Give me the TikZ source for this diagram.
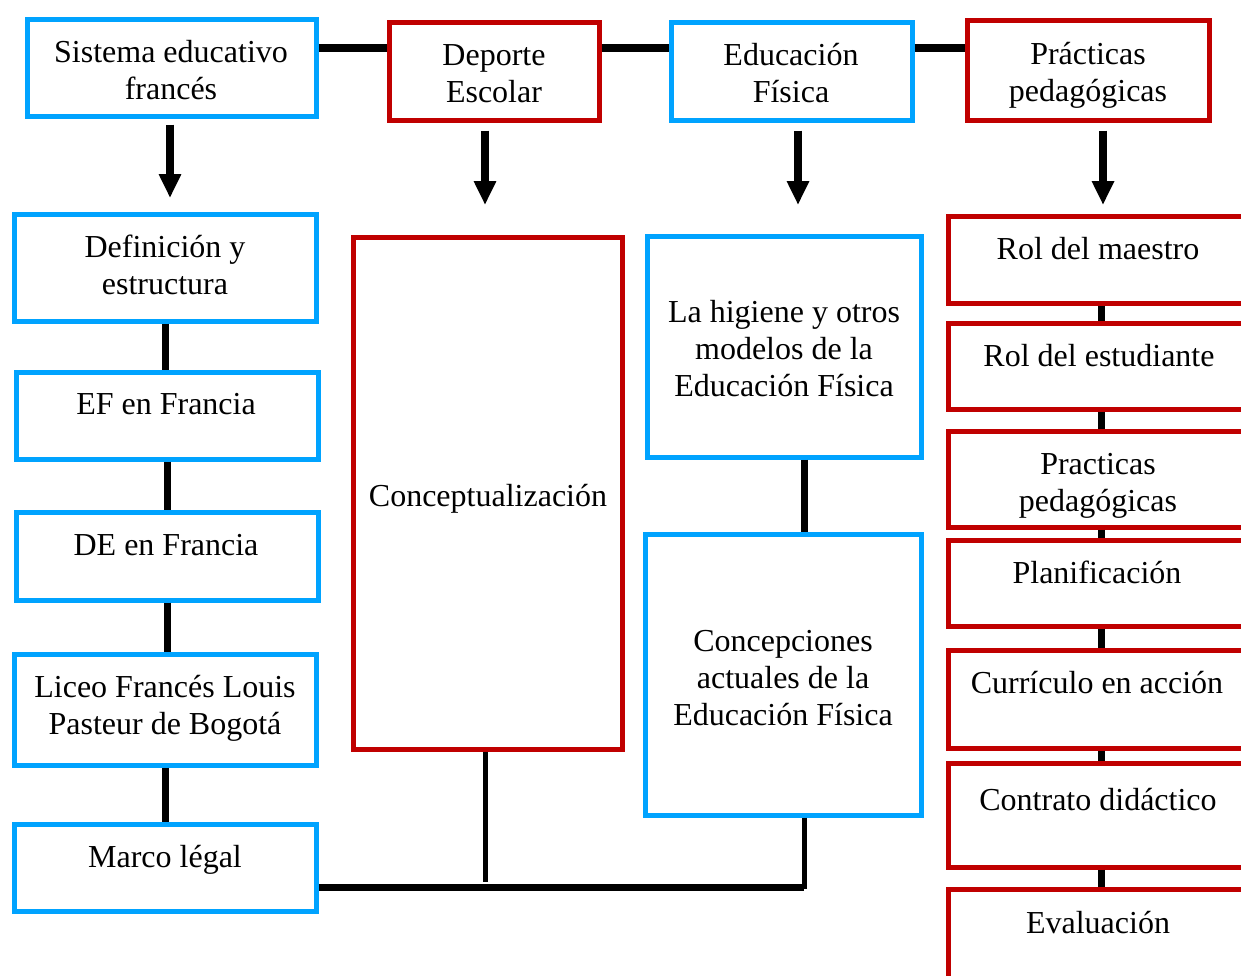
\documentclass[tikz,border=0pt]{standalone}
\usepackage{fontspec}
\setmainfont{Liberation Serif}
\usetikzlibrary{arrows.meta}
\definecolor{bblue}{RGB}{0,163,255}
\definecolor{rred}{RGB}{192,0,0}
\newcommand{\tl}[1]{\begin{tabular}[t]{@{}c@{}}#1\end{tabular}}
\begin{document}
\begin{tikzpicture}[x=1pt,y=-1pt,
  box/.style={draw, line width=4.5pt, rectangle, anchor=north west, inner sep=0pt},
  bluebox/.style={box, draw=bblue},
  redbox/.style={box, draw=rred},
  lbl/.style={anchor=base, inner sep=0pt, font=\fontsize{32}{37}\selectfont},
  conn/.style={line width=7pt},
  thinconn/.style={line width=5pt},
  arr/.style={line width=8pt, -{Triangle[width=21pt,length=24pt]}}
]
\useasboundingbox (0,0) rectangle (1241,975);
% top row
\node[bluebox, minimum width=289, minimum height=97] (sis) at (25,17) {};
\node[redbox, minimum width=210, minimum height=98] (dep) at (387,20) {};
\node[bluebox, minimum width=241, minimum height=98] (edu) at (669,20) {};
\node[redbox, minimum width=242, minimum height=100] (pra) at (965,18) {};
\node[lbl] (tsis) at (171,62) {\tl{Sistema educativo\\francés}};
\node[lbl] (tdep) at (494,65) {\tl{Deporte\\Escolar}};
\node[lbl] (tedu) at (791,65) {\tl{Educación\\Física}};
\node[lbl] (tpra) at (1088,64) {\tl{Prácticas\\pedagógicas}};
% left column
\node[bluebox, minimum width=302, minimum height=107] (def) at (12,212) {};
\node[bluebox, minimum width=302, minimum height=87] (eff) at (14,370) {};
\node[bluebox, minimum width=302, minimum height=88] (def2) at (14,510) {};
\node[bluebox, minimum width=302, minimum height=111] (lic) at (12,652) {};
\node[bluebox, minimum width=302, minimum height=87] (ml) at (12,822) {};
\node[lbl] (tdef) at (165,257) {\tl{Definición y\\estructura}};
\node[lbl] (teff) at (166,414) {EF en Francia};
\node[lbl] (tdef2) at (166,555) {DE en Francia};
\node[lbl] (tlic) at (165,697) {\tl{Liceo Francés Louis\\Pasteur de Bogotá}};
\node[lbl] (tml) at (165,867) {Marco légal};
% middle
\node[redbox, minimum width=269, minimum height=512] (cz) at (351,235) {};
\node[bluebox, minimum width=274, minimum height=221] (hig) at (645,234) {};
\node[bluebox, minimum width=276, minimum height=281] (cpc) at (643,532) {};
\node[lbl] (tcz) at (488,506) {Conceptualización};
\node[lbl] (thig) at (784,322) {\tl{La higiene y otros\\modelos de la\\Educación Física}};
\node[lbl] (tcpc) at (783,651) {\tl{Concepciones\\actuales de la\\Educación Física}};
% right column
\node[redbox, minimum width=310, minimum height=87] (r1) at (946,214) {};
\node[redbox, minimum width=310, minimum height=86] (r2) at (946,321) {};
\node[redbox, minimum width=310, minimum height=96] (r3) at (946,429) {};
\node[redbox, minimum width=310, minimum height=86] (r4) at (946,538) {};
\node[redbox, minimum width=310, minimum height=98] (r5) at (946,648) {};
\node[redbox, minimum width=310, minimum height=104] (r6) at (946,761) {};
\node[redbox, minimum width=310, minimum height=120] (r7) at (946,887) {};
\node[lbl] (tr1) at (1098,259) {Rol del maestro};
\node[lbl] (tr2) at (1099,366) {Rol del estudiante};
\node[lbl] (tr3) at (1098,474) {\tl{Practicas\\pedagógicas}};
\node[lbl] (tr4) at (1097,583) {Planificación};
\node[lbl] (tr5) at (1097,693) {Currículo en acción};
\node[lbl] (tr6) at (1098,810) {Contrato didáctico};
\node[lbl] (tr7) at (1098,933) {Evaluación};
% helper coordinates
\coordinate (hy) at (0,48);
\coordinate (by) at (0,887);
\coordinate (cx) at (804,0);
\coordinate (ax1) at (170,0);
\coordinate (ax2) at (485,0);
\coordinate (ax3) at (798,0);
\coordinate (ax4) at (1103,0);
\coordinate (rx) at (1101,0);
% top horizontal connectors
\draw[line width=8pt] (sis.east |- hy) -- (dep.west |- hy);
\draw[line width=8pt] (dep.east |- hy) -- (edu.west |- hy);
\draw[line width=8pt] (edu.east |- hy) -- (pra.west |- hy);
% arrows
\draw[arr] ([yshift=-6pt]sis.south -| ax1) -- ([yshift=14pt]def.north -| ax1);
\draw[arr] ([yshift=-8pt]dep.south -| ax2) -- ([yshift=30pt]cz.north -| ax2);
\draw[arr] ([yshift=-8pt]edu.south -| ax3) -- ([yshift=29pt]hig.north -| ax3);
\draw[arr] ([yshift=-8pt]pra.south -| ax4) -- ([yshift=9pt]r1.north -| ax4);
% left column connectors
\draw[conn] (def.south) -- (eff.north -| def.south);
\draw[conn] (eff.south) -- (def2.north);
\draw[conn] (def2.south) -- (lic.north -| def2.south);
\draw[conn] (lic.south) -- (ml.north);
% middle connectors
\draw[conn] (hig.south -| cx) -- (cpc.north -| cx);
\draw[thinconn] (cz.south -| ax2) -- ([yshift=5pt]by -| ax2);
\draw[conn] (ml.east |- by) -- (by -| cx);
\draw[thinconn] (cpc.south -| cx) -- ([yshift=-2pt]by -| cx);
% right column connectors
\draw[conn] (r1.south -| rx) -- (r2.north -| rx);
\draw[conn] (r2.south -| rx) -- (r3.north -| rx);
\draw[conn] (r3.south -| rx) -- (r4.north -| rx);
\draw[conn] (r4.south -| rx) -- (r5.north -| rx);
\draw[conn] (r5.south -| rx) -- (r6.north -| rx);
\draw[conn] (r6.south -| rx) -- (r7.north -| rx);
\end{tikzpicture}
\end{document}
